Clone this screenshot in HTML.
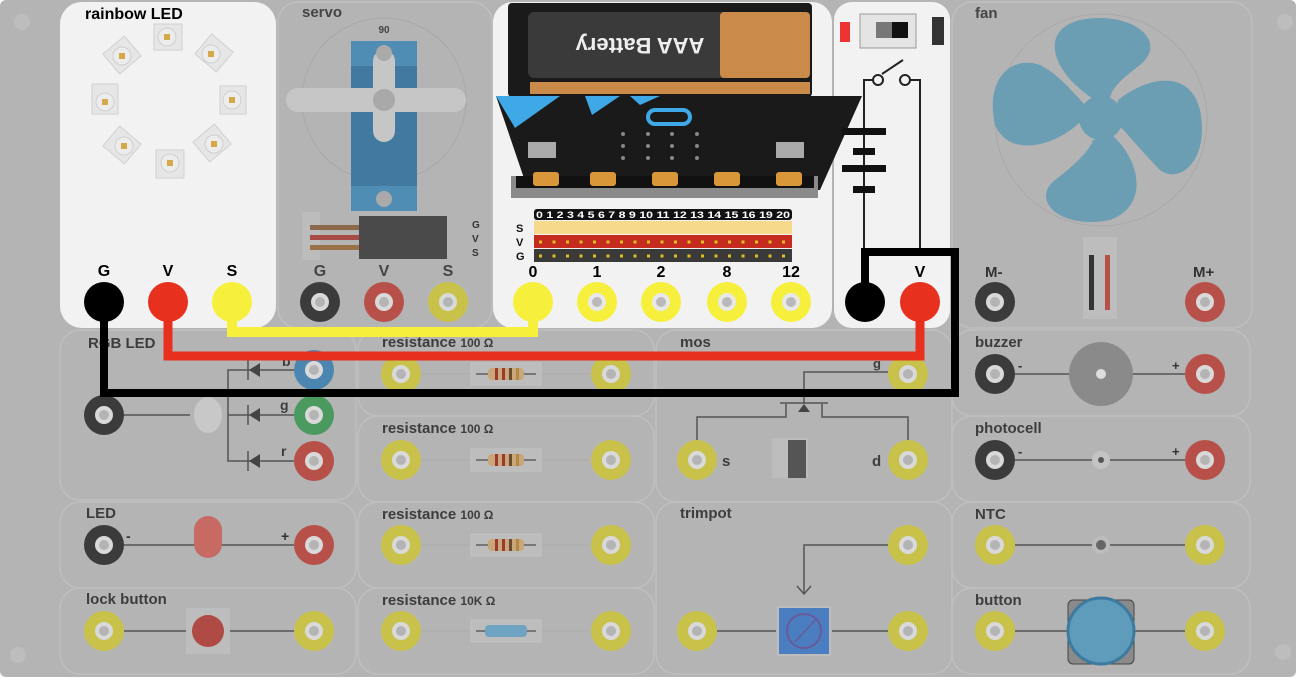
<!DOCTYPE html>
<html><head><meta charset="utf-8"><style>
html,body{margin:0;padding:0;background:#fff;width:1300px;height:680px;overflow:hidden}
svg{display:block}
text{font-family:"Liberation Sans",sans-serif;font-weight:bold}
</style></head><body>
<svg width="1300" height="680" viewBox="0 0 1300 680">
<defs>
<g id="ty"><circle r="20" fill="#c9c24a"/><circle r="9" fill="#d9d9d9"/><circle r="5" fill="#b4b4b4"/></g>
<g id="tk"><circle r="20" fill="#3b3b3b"/><circle r="9" fill="#d9d9d9"/><circle r="5" fill="#b4b4b4"/></g>
<g id="tr"><circle r="20" fill="#b8504a"/><circle r="9" fill="#d9d9d9"/><circle r="5" fill="#b4b4b4"/></g>
<g id="tY"><circle r="20" fill="#f6f03c"/><circle r="9" fill="#e8e8e8"/><circle r="5" fill="#b9b9b9"/></g>
<g id="res"><rect x="-35" y="-11" width="70" height="22" fill="#bdbdbd" stroke="#c4c4c4"/><line x1="-30" y1="0" x2="30" y2="0" stroke="#777" stroke-width="2"/><rect x="-18" y="-6" width="36" height="12" rx="4" fill="#c9a77a"/><rect x="-11" y="-6" width="3" height="12" fill="#9c3a30"/><rect x="-4" y="-6" width="3" height="12" fill="#9c3a30"/><rect x="3" y="-6" width="3" height="12" fill="#6a4a30"/><rect x="10" y="-6" width="3" height="12" fill="#b08a40"/></g>
</defs>
<rect x="0" y="0" width="1296" height="677" rx="6" fill="#b4b4b4"/>
<circle cx="22" cy="22" r="8" fill="#bdbdbd"/><circle cx="1285" cy="22" r="8" fill="#bdbdbd"/><circle cx="18" cy="655" r="8" fill="#bdbdbd"/><circle cx="1283" cy="652" r="8" fill="#bdbdbd"/>
<g fill="none" stroke="#bfbfbf" stroke-width="1.5">
<rect x="278" y="2" width="214" height="326" rx="20"/>
<rect x="952" y="2" width="300" height="326" rx="20"/>
<rect x="60" y="330" width="296" height="170" rx="20"/>
<rect x="358" y="330" width="296" height="86" rx="20"/>
<rect x="358" y="416" width="296" height="86" rx="20"/>
<rect x="358" y="502" width="296" height="86" rx="20"/>
<rect x="358" y="588" width="296" height="86" rx="20"/>
<rect x="656" y="330" width="296" height="172" rx="20"/>
<rect x="656" y="502" width="296" height="172" rx="20"/>
<rect x="952" y="330" width="298" height="86" rx="20"/>
<rect x="952" y="416" width="298" height="86" rx="20"/>
<rect x="952" y="502" width="298" height="86" rx="20"/>
<rect x="952" y="588" width="298" height="86" rx="20"/>
<rect x="60" y="502" width="296" height="86" rx="20"/>
<rect x="60" y="588" width="296" height="86" rx="20"/>
</g>
<rect x="60" y="2" width="216" height="326" rx="22" fill="#f2f2f2"/>
<rect x="493" y="2" width="339" height="326" rx="20" fill="#f2f2f2"/>
<rect x="834" y="2" width="116" height="326" rx="18" fill="#f2f2f2"/>
<g fill="#e6e6e6" stroke="#d0d0d0">
<rect x="154" y="24" width="28" height="26"/><rect x="200" y="40" width="28" height="26" transform="rotate(40 214 53)"/><rect x="220" y="86" width="26" height="28"/><rect x="198" y="130" width="28" height="26" transform="rotate(-40 212 143)"/><rect x="156" y="150" width="28" height="28"/><rect x="108" y="132" width="28" height="26" transform="rotate(40 122 145)"/><rect x="92" y="84" width="26" height="30"/><rect x="108" y="42" width="28" height="26" transform="rotate(-40 122 55)"/>
</g>
<g fill="#ececec" stroke="#cfcfcf"><circle cx="167" cy="37" r="9"/><circle cx="211" cy="54" r="9"/><circle cx="232" cy="100" r="9"/><circle cx="214" cy="144" r="9"/><circle cx="170" cy="163" r="9"/><circle cx="124" cy="146" r="9"/><circle cx="105" cy="102" r="9"/><circle cx="122" cy="56" r="9"/></g>
<g fill="#d4a94a"><rect x="164" y="34" width="6" height="6"/><rect x="208" y="51" width="6" height="6"/><rect x="229" y="97" width="6" height="6"/><rect x="211" y="141" width="6" height="6"/><rect x="167" y="160" width="6" height="6"/><rect x="121" y="143" width="6" height="6"/><rect x="102" y="99" width="6" height="6"/><rect x="119" y="53" width="6" height="6"/></g>
<text x="85" y="19" font-size="16" fill="#000">rainbow LED</text>
<text x="104" y="276" font-size="16" text-anchor="middle" fill="#000">G</text><text x="168" y="276" font-size="16" text-anchor="middle" fill="#000">V</text><text x="232" y="276" font-size="16" text-anchor="middle" fill="#000">S</text>
<text x="302" y="17" font-size="15" fill="#444">servo</text>
<circle cx="384" cy="100" r="82" fill="none" stroke="#a8a8a8"/>
<text x="384" y="33" font-size="10" text-anchor="middle" fill="#444">90</text>
<rect x="351" y="41" width="66" height="170" fill="#4f8db5"/><rect x="351" y="66" width="66" height="120" fill="#4179a0"/>
<rect x="286" y="88" width="180" height="24" rx="12" fill="#c6c6c6"/>
<rect x="373" y="50" width="22" height="92" rx="11" fill="#c6c6c6"/>
<circle cx="384" cy="100" r="11" fill="#a8a8a8"/><circle cx="384" cy="53" r="8" fill="#aaa"/><circle cx="384" cy="199" r="8" fill="#aaa"/>
<rect x="302" y="212" width="18" height="48" fill="#bcbcbc"/>
<rect x="310" y="225" width="50" height="5" fill="#8a6a4a"/><rect x="310" y="235" width="50" height="5" fill="#a84a45"/><rect x="310" y="245" width="50" height="5" fill="#9a7048"/>
<rect x="359" y="216" width="88" height="43" fill="#4a4a4a"/>
<text x="472" y="228" font-size="10" fill="#333">G</text><text x="472" y="242" font-size="10" fill="#333">V</text><text x="472" y="256" font-size="10" fill="#333">S</text>
<text x="320" y="276" font-size="16" text-anchor="middle" fill="#444">G</text><text x="384" y="276" font-size="16" text-anchor="middle" fill="#444">V</text><text x="448" y="276" font-size="16" text-anchor="middle" fill="#444">S</text>
<use href="#tk" x="320" y="302"/><use href="#tr" x="384" y="302"/><use href="#ty" x="448" y="302"/>
<rect x="508" y="3" width="304" height="94" rx="4" fill="#1a1a1a"/>
<rect x="528" y="12" width="200" height="66" rx="6" fill="#3a3a3a"/><rect x="720" y="12" width="90" height="66" rx="4" fill="#c98a4a"/>
<rect x="530" y="82" width="280" height="12" fill="#c98a4a"/>
<text x="640" y="52" font-size="22" font-weight="normal" fill="#eee" text-anchor="middle" transform="rotate(180 640 45)">AAA Battery</text>
<polygon points="496,96 862,96 820,190 528,190" fill="#1a1a1a"/>
<polygon points="496,96 560,96 515,128" fill="#3fa9e8"/><polygon points="585,96 620,96 592,115" fill="#3fa9e8"/><polygon points="630,96 660,96 640,105" fill="#3fa9e8"/>
<rect x="648" y="110" width="42" height="14" rx="7" fill="none" stroke="#3fa9e8" stroke-width="4"/>
<rect x="528" y="142" width="28" height="16" fill="#aaa"/><rect x="776" y="142" width="28" height="16" fill="#aaa"/>
<g fill="#888"><circle cx="623" cy="134" r="2"/><circle cx="623" cy="146" r="2"/><circle cx="623" cy="158" r="2"/><circle cx="648" cy="134" r="2"/><circle cx="648" cy="146" r="2"/><circle cx="648" cy="158" r="2"/><circle cx="672" cy="134" r="2"/><circle cx="672" cy="146" r="2"/><circle cx="672" cy="158" r="2"/><circle cx="697" cy="134" r="2"/><circle cx="697" cy="146" r="2"/><circle cx="697" cy="158" r="2"/></g>
<rect x="511" y="176" width="307" height="22" fill="#8a8a8a"/><rect x="516" y="176" width="298" height="12" fill="#111"/>
<g fill="#d9973a"><rect x="533" y="172" width="26" height="14" rx="3"/><rect x="590" y="172" width="26" height="14" rx="3"/><rect x="652" y="172" width="26" height="14" rx="3"/><rect x="714" y="172" width="26" height="14" rx="3"/><rect x="776" y="172" width="26" height="14" rx="3"/></g>
<rect x="534" y="209" width="258" height="11" fill="#111" rx="3"/>
<text x="536" y="218" font-size="9" fill="#fff" textLength="254" lengthAdjust="spacingAndGlyphs">0 1 2 3 4 5 6 7 8 9 10 11 12 13 14 15 16 19 20</text>
<rect x="534" y="221" width="258" height="13" fill="#f6d98a"/><rect x="534" y="235" width="258" height="13" fill="#c42a1e"/><rect x="534" y="249" width="258" height="13" fill="#3a3a3a"/>
<text x="516" y="232" font-size="11" fill="#111">S</text><text x="516" y="246" font-size="11" fill="#111">V</text><text x="516" y="260" font-size="11" fill="#111">G</text>
<g stroke="#e0c020" stroke-width="3" stroke-dasharray="3,10.5"><line x1="539" y1="242" x2="792" y2="242"/><line x1="539" y1="256" x2="792" y2="256"/></g>
<g font-size="16" fill="#000" text-anchor="middle"><text x="533" y="277">0</text><text x="597" y="277">1</text><text x="661" y="277">2</text><text x="727" y="277">8</text><text x="791" y="277">12</text></g>
<use href="#tY" x="597" y="302"/><use href="#tY" x="661" y="302"/><use href="#tY" x="727" y="302"/><use href="#tY" x="791" y="302"/>
<rect x="840" y="22" width="10" height="20" fill="#e33"/>
<rect x="860" y="14" width="56" height="34" fill="#e4e4e4" stroke="#999"/><rect x="876" y="22" width="16" height="16" fill="#777"/><rect x="892" y="22" width="16" height="16" fill="#111"/>
<rect x="932" y="17" width="12" height="28" fill="#333"/>
<g stroke="#222" stroke-width="2" fill="none"><polyline points="864,252 864,80 878,80"/><circle cx="878" cy="80" r="5" fill="#f2f2f2"/><circle cx="905" cy="80" r="5" fill="#f2f2f2"/><line x1="882" y1="74" x2="903" y2="60"/><polyline points="910,80 920,80 920,252"/></g>
<g fill="#111"><rect x="842" y="128" width="44" height="7"/><rect x="853" y="148" width="22" height="7"/><rect x="842" y="165" width="44" height="7"/><rect x="853" y="186" width="22" height="7"/></g>
<text x="920" y="277" font-size="16" text-anchor="middle" fill="#000">V</text>
<text x="975" y="18" font-size="15" fill="#444">fan</text>
<circle cx="1101" cy="120" r="106" fill="none" stroke="#a8a8a8"/>
<g fill="#6b9db3">
<path d="M1092,98 C1050,70 1040,30 1080,20 C1130,10 1170,40 1140,65 C1120,80 1110,90 1110,100 Z"/>
<path d="M1118,100 C1150,75 1190,70 1200,110 C1210,160 1180,185 1160,170 C1140,150 1125,130 1115,122 Z"/>
<path d="M1112,135 C1140,160 1150,205 1110,220 C1060,230 1030,200 1055,180 C1075,165 1090,150 1093,140 Z"/>
<path d="M1084,118 C1060,145 1010,160 995,125 C985,80 1010,55 1040,65 C1060,75 1075,95 1088,108 Z"/>
<circle cx="1101" cy="118" r="22"/>
</g>
<rect x="1083" y="237" width="34" height="82" fill="#bdbdbd"/><rect x="1089" y="255" width="5" height="55" fill="#333"/><rect x="1105" y="255" width="5" height="55" fill="#b8504a"/>
<text x="985" y="277" font-size="15" fill="#333">M-</text><text x="1193" y="277" font-size="15" fill="#333">M+</text>
<use href="#tk" x="995" y="302"/><use href="#tr" x="1205" y="302"/>
<text x="88" y="348" font-size="15" fill="#3d3d3d">RGB LED</text>
<g stroke="#555" stroke-width="1.5" fill="none"><line x1="124" y1="415" x2="190" y2="415"/><polyline points="294,370 228,370 228,461 294,461"/><line x1="228" y1="415" x2="294" y2="415"/><line x1="248" y1="360" x2="248" y2="380"/><line x1="248" y1="405" x2="248" y2="425"/><line x1="248" y1="451" x2="248" y2="471"/></g>
<g fill="#444"><polygon points="249,370 260,363 260,377"/><polygon points="249,415 260,408 260,422"/><polygon points="249,461 260,454 260,468"/></g>
<ellipse cx="208" cy="415" rx="14" ry="18" fill="#c8c8c8"/>
<g font-size="14" fill="#3d3d3d"><text x="282" y="366">b</text><text x="280" y="410">g</text><text x="281" y="456">r</text></g>
<use href="#tk" x="104" y="415"/>
<g><circle cx="314" cy="370" r="20" fill="#4a86b0"/><circle cx="314" cy="370" r="9" fill="#d9d9d9"/><circle cx="314" cy="370" r="5" fill="#b4b4b4"/></g>
<g><circle cx="314" cy="415" r="20" fill="#4a9a60"/><circle cx="314" cy="415" r="9" fill="#d9d9d9"/><circle cx="314" cy="415" r="5" fill="#b4b4b4"/></g>
<use href="#tr" x="314" y="461"/>
<text x="86" y="518" font-size="15" fill="#3d3d3d">LED</text>
<line x1="124" y1="545" x2="294" y2="545" stroke="#555" stroke-width="1.5"/>
<rect x="194" y="516" width="28" height="42" rx="14" fill="#c86a64"/>
<text x="126" y="541" font-size="14" fill="#333">-</text><text x="281" y="541" font-size="14" fill="#333">+</text>
<use href="#tk" x="104" y="545"/><use href="#tr" x="314" y="545"/>
<text x="86" y="604" font-size="15" fill="#3d3d3d">lock button</text>
<line x1="124" y1="631" x2="294" y2="631" stroke="#555" stroke-width="1.5"/>
<rect x="186" y="608" width="44" height="46" fill="#bdbdbd"/><circle cx="208" cy="631" r="16" fill="#b04a45"/>
<use href="#ty" x="104" y="631"/><use href="#ty" x="314" y="631"/>
<g font-size="15" fill="#3d3d3d">
<text x="382" y="347">resistance <tspan font-size="12">100 Ω</tspan></text>
<text x="382" y="433">resistance <tspan font-size="12">100 Ω</tspan></text>
<text x="382" y="519">resistance <tspan font-size="12">100 Ω</tspan></text>
<text x="382" y="605">resistance <tspan font-size="12">10K Ω</tspan></text>
</g>
<g stroke="#aaa" stroke-width="1"><line x1="420" y1="374" x2="590" y2="374"/><line x1="420" y1="460" x2="590" y2="460"/><line x1="420" y1="545" x2="590" y2="545"/><line x1="420" y1="631" x2="590" y2="631"/></g>
<use href="#res" x="506" y="374"/><use href="#res" x="506" y="460"/><use href="#res" x="506" y="545"/><use href="#res" x="506" y="631"/>
<rect x="485" y="625" width="42" height="12" rx="4" fill="#6fa3c2"/>
<use href="#ty" x="401" y="374"/><use href="#ty" x="611" y="374"/><use href="#ty" x="401" y="460"/><use href="#ty" x="611" y="460"/><use href="#ty" x="401" y="545"/><use href="#ty" x="611" y="545"/><use href="#ty" x="401" y="631"/><use href="#ty" x="611" y="631"/>
<text x="680" y="347" font-size="15" fill="#3d3d3d">mos</text>
<g stroke="#555" stroke-width="1.5" fill="none"><polyline points="888,372 804,372 804,404"/><polyline points="697,440 697,417 786,417 786,404"/><polyline points="908,440 908,417 822,417 822,404"/><line x1="780" y1="403" x2="828" y2="403"/></g>
<polygon points="804,404 798,412 810,412" fill="#444"/>
<text x="873" y="368" font-size="13" fill="#3d3d3d">g</text><text x="722" y="466" font-size="15" fill="#3d3d3d">s</text><text x="872" y="466" font-size="15" fill="#3d3d3d">d</text>
<rect x="772" y="438" width="36" height="40" fill="#bdbdbd"/><rect x="788" y="440" width="18" height="38" fill="#555"/>
<use href="#ty" x="908" y="374"/><use href="#ty" x="697" y="460"/><use href="#ty" x="908" y="460"/>
<text x="680" y="518" font-size="15" fill="#3d3d3d">trimpot</text>
<g stroke="#555" stroke-width="1.5" fill="none"><polyline points="888,545 804,545 804,594"/><polyline points="797,586 804,594 811,586"/><line x1="717" y1="631" x2="776" y2="631"/><line x1="832" y1="631" x2="888" y2="631"/></g>
<rect x="777" y="606" width="54" height="50" fill="#bdbdbd"/><rect x="779" y="608" width="50" height="46" fill="#4a7ec0"/><circle cx="804" cy="631" r="17" fill="none" stroke="#6a5a9a" stroke-width="2"/><line x1="795" y1="642" x2="817" y2="618" stroke="#6a5a9a" stroke-width="1.5"/>
<use href="#ty" x="908" y="545"/><use href="#ty" x="697" y="631"/><use href="#ty" x="908" y="631"/>
<text x="975" y="347" font-size="15" fill="#3d3d3d">buzzer</text>
<line x1="1015" y1="374" x2="1185" y2="374" stroke="#555" stroke-width="1.5"/>
<circle cx="1101" cy="374" r="32" fill="#8a8a8a"/><circle cx="1101" cy="374" r="5" fill="#ddd"/>
<text x="1018" y="370" font-size="13" fill="#333">-</text><text x="1172" y="370" font-size="13" fill="#333">+</text>
<use href="#tk" x="995" y="374"/><use href="#tr" x="1205" y="374"/>
<text x="975" y="433" font-size="15" fill="#3d3d3d">photocell</text>
<line x1="1015" y1="460" x2="1185" y2="460" stroke="#555" stroke-width="1.5"/>
<circle cx="1101" cy="460" r="9" fill="#c4c4c4"/><circle cx="1101" cy="460" r="3" fill="#555"/>
<text x="1018" y="456" font-size="13" fill="#333">-</text><text x="1172" y="456" font-size="13" fill="#333">+</text>
<use href="#tk" x="995" y="460"/><use href="#tr" x="1205" y="460"/>
<text x="975" y="519" font-size="15" fill="#3d3d3d">NTC</text>
<line x1="1015" y1="545" x2="1185" y2="545" stroke="#555" stroke-width="1.5"/>
<circle cx="1101" cy="545" r="9" fill="#bcbcbc"/><circle cx="1101" cy="545" r="5" fill="#666"/>
<use href="#ty" x="995" y="545"/><use href="#ty" x="1205" y="545"/>
<text x="975" y="605" font-size="15" fill="#3d3d3d">button</text>
<line x1="1015" y1="631" x2="1185" y2="631" stroke="#555" stroke-width="1.5"/>
<rect x="1068" y="600" width="66" height="64" rx="5" fill="#8a8a8a" stroke="#444"/>
<circle cx="1101" cy="631" r="33" fill="#5f9bbb" stroke="#3d7aa0" stroke-width="3"/>
<use href="#ty" x="995" y="631"/><use href="#ty" x="1205" y="631"/>
<g fill="none" stroke-linejoin="miter">
<polyline points="232,302 232,332 533,332 533,302" stroke="#f6f03c" stroke-width="10"/>
<polyline points="168,302 168,356 920,356 920,302" stroke="#e8301e" stroke-width="9"/>
<polyline points="104,302 104,393 955,393 955,252 865,252 865,302" stroke="#000" stroke-width="8"/>
</g>
<circle cx="104" cy="302" r="20" fill="#000"/>
<circle cx="168" cy="302" r="20" fill="#e8301e"/>
<circle cx="232" cy="302" r="20" fill="#f6f03c"/>
<circle cx="533" cy="302" r="20" fill="#f6f03c"/>
<circle cx="865" cy="302" r="20" fill="#000"/>
<circle cx="920" cy="302" r="20" fill="#e8301e"/>
</svg>
</body></html>
